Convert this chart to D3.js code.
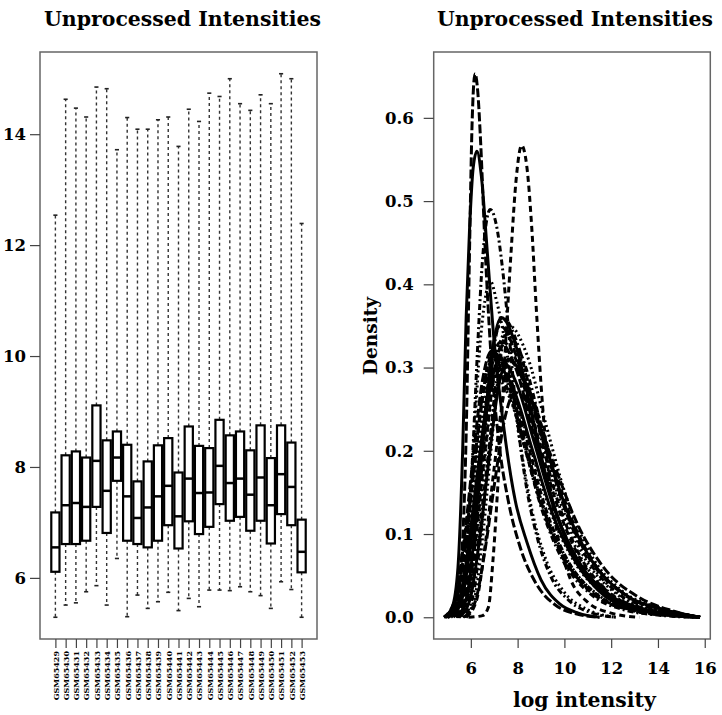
<!DOCTYPE html>
<html>
<head>
<meta charset="utf-8">
<script src="https://cdn.jsdelivr.net/npm/d3@7"></script>
<style>
  body { margin: 0; background: #fff; }
  svg { display: block; }
  text { font-family: "DejaVu Serif", "Liberation Serif", serif; font-weight: bold; fill: #000; }
</style>
</head>
<body>
<svg id="chart" width="722" height="715"></svg>
<script>
// Sample names (one box and one density curve per array)
const sampleNames = ['GSM65429','GSM65430','GSM65431','GSM65432','GSM65433','GSM65434','GSM65435',
  'GSM65436','GSM65437','GSM65438','GSM65439','GSM65440','GSM65441','GSM65442','GSM65443','GSM65444',
  'GSM65445','GSM65446','GSM65447','GSM65448','GSM65449','GSM65450','GSM65451','GSM65452','GSM65453'];

// Boxplot summaries (log intensity)
const boxLow    = [5.29,5.51,5.55,5.75,5.86,5.51,6.35,5.30,5.69,5.45,5.57,5.74,5.41,5.63,5.48,5.78,5.78,5.77,5.84,5.75,5.68,5.45,5.93,5.79,5.29];
const boxQ1     = [6.11,6.61,6.61,6.67,7.28,6.81,7.75,6.67,6.61,6.55,6.67,6.95,6.53,7.02,6.79,6.92,7.33,7.03,7.10,6.85,7.03,6.62,7.15,6.95,6.10];
const boxMedian = [6.55,7.31,7.35,7.28,8.11,7.57,8.17,7.47,7.08,7.27,7.47,7.66,7.11,7.79,7.53,7.54,8.02,7.71,7.79,7.50,7.81,7.31,7.87,7.64,6.47];
const boxQ3     = [7.18,8.21,8.28,8.17,9.11,8.48,8.64,8.40,7.74,8.10,8.39,8.52,7.90,8.73,8.38,8.34,8.85,8.57,8.64,8.30,8.75,8.16,8.75,8.44,7.05];
const boxHigh   = [12.54,14.63,14.47,14.31,14.85,14.82,13.72,14.30,14.09,14.09,14.26,14.31,13.78,14.45,14.23,14.74,14.68,15.00,14.55,14.43,14.71,14.55,15.09,15.00,12.39];

// Density curves: log intensity (x) and density (y), one row per sample
const densityX = [
  [4.85,5.20,5.45,5.65,5.80,5.95,6.10,6.26,6.45,6.70,7.00,7.40,7.90,8.40,9.00,9.80,10.60,11.50],
  [4.85,5.32,5.69,6.11,6.53,6.95,7.63,8.30,9.11,10.06,11.27,12.76,14.51,15.80],
  [4.90,5.37,5.74,6.16,6.58,7.00,7.70,8.40,9.24,10.22,11.48,13.02,14.84,15.80],
  [4.95,5.40,5.75,6.15,6.55,6.95,7.60,8.25,9.03,9.94,11.11,12.54,14.23,15.53],
  [5.70,6.19,6.58,7.02,7.46,7.90,8.73,9.55,10.54,11.70,13.18,14.60,15.40,15.80],
  [5.15,5.62,5.99,6.41,6.83,7.25,7.98,8.70,9.57,10.59,11.89,13.49,15.20,15.80],
  [5.90,6.50,6.75,6.95,7.20,7.45,7.70,7.95,8.17,8.40,8.60,8.80,9.00,9.30,9.70,10.20,11.00,12.00,13.20],
  [4.90,5.39,5.78,6.22,6.66,7.10,7.83,8.55,9.42,10.44,11.74,13.34,15.22,15.80],
  [5.00,5.40,5.75,6.05,6.30,6.50,6.83,7.10,7.35,7.60,7.90,8.30,8.80,9.40,10.20,11.20,12.20],
  [4.90,5.35,5.70,6.10,6.50,6.90,7.58,8.25,9.06,10.01,11.22,12.71,14.46,15.80],
  [5.05,5.52,5.89,6.31,6.73,7.15,7.88,8.60,9.47,10.49,11.79,13.39,15.27,15.80],
  [5.40,5.85,6.20,6.60,7.00,7.40,8.10,8.80,9.64,10.62,11.88,13.42,15.24,15.80],
  [5.00,5.40,5.80,6.10,6.40,6.60,6.83,7.10,7.40,7.70,8.10,8.60,9.20,10.00,11.00,12.20],
  [5.45,5.92,6.29,6.71,7.13,7.55,8.33,9.10,10.03,11.12,12.51,14.22,15.40,15.80],
  [5.25,5.70,6.05,6.45,6.85,7.25,7.95,8.65,9.49,10.47,11.73,13.27,15.09,15.80],
  [5.40,5.83,6.16,6.54,6.92,7.30,7.95,8.60,9.38,10.29,11.46,12.89,14.58,15.80],
  [5.80,6.25,6.60,7.00,7.40,7.80,8.55,9.30,10.20,11.25,12.60,14.25,15.40,15.80],
  [5.45,5.90,6.25,6.65,7.05,7.45,8.18,8.90,9.77,10.79,12.09,13.69,15.30,15.80],
  [5.65,6.08,6.41,6.79,7.17,7.55,8.28,9.00,9.87,10.89,12.19,13.79,15.35,15.80],
  [5.35,5.78,6.11,6.49,6.87,7.25,7.93,8.60,9.41,10.36,11.57,13.06,14.81,15.80],
  [5.50,5.97,6.34,6.76,7.18,7.60,8.38,9.15,10.08,11.17,12.56,14.27,15.40,15.80],
  [5.00,5.45,5.80,6.20,6.60,7.00,7.68,8.35,9.16,10.11,11.32,12.81,14.56,15.80],
  [5.75,6.18,6.51,6.89,7.27,7.65,8.40,9.15,10.05,11.10,12.45,14.10,15.40,15.80],
  [5.45,5.88,6.21,6.59,6.97,7.35,8.05,8.75,9.59,10.57,11.83,13.37,15.19,15.80],
  [4.90,5.30,5.60,5.80,5.95,6.05,6.18,6.30,6.42,6.60,6.85,7.20,7.60,8.10,8.80,9.60,10.50,11.50]
];
const densityY = [
  [0,.012,.06,.20,.36,.47,.54,.56,.53,.44,.33,.23,.14,.09,.045,.016,.005,0],
  [0,.021,.084,.180,.267,.30,.270,.204,.126,.066,.027,.009,.002,0],
  [0,.020,.081,.174,.258,.29,.261,.197,.122,.064,.026,.009,.002,0],
  [0,.022,.087,.186,.276,.31,.279,.211,.130,.068,.028,.009,.002,0],
  [0,.019,.076,.162,.240,.27,.243,.184,.113,.059,.024,.008,.002,0],
  [0,.022,.087,.186,.276,.31,.279,.211,.130,.068,.028,.009,.002,0],
  [0,.002,.012,.07,.18,.31,.43,.53,.567,.54,.47,.37,.28,.18,.10,.05,.018,.005,0],
  [0,.021,.084,.180,.267,.30,.270,.204,.126,.066,.027,.009,.002,0],
  [0,.01,.06,.18,.33,.43,.49,.47,.42,.35,.26,.17,.10,.05,.02,.005,0],
  [0,.022,.090,.192,.285,.32,.288,.218,.134,.070,.029,.010,.002,0],
  [0,.021,.084,.180,.267,.30,.270,.204,.126,.066,.027,.009,.002,0],
  [0,.023,.092,.198,.294,.33,.297,.224,.139,.073,.030,.010,.002,0],
  [0,.012,.08,.20,.33,.38,.404,.38,.34,.29,.21,.13,.07,.03,.009,0],
  [0,.022,.087,.186,.276,.31,.279,.211,.130,.068,.028,.009,.002,0],
  [0,.023,.092,.198,.294,.33,.297,.224,.139,.073,.030,.010,.002,0],
  [0,.025,.101,.216,.320,.36,.324,.245,.151,.079,.032,.011,.003,0],
  [0,.021,.084,.180,.267,.30,.270,.204,.126,.066,.027,.009,.002,0],
  [0,.024,.095,.204,.303,.34,.306,.231,.143,.075,.031,.010,.002,0],
  [0,.024,.095,.204,.303,.34,.306,.231,.143,.075,.031,.010,.002,0],
  [0,.025,.098,.210,.312,.35,.315,.238,.147,.077,.032,.011,.002,0],
  [0,.022,.087,.186,.276,.31,.279,.211,.130,.068,.028,.009,.002,0],
  [0,.022,.090,.192,.285,.32,.288,.218,.134,.070,.029,.010,.002,0],
  [0,.025,.098,.210,.312,.35,.315,.238,.147,.077,.032,.011,.002,0],
  [0,.025,.101,.216,.320,.36,.324,.245,.151,.079,.032,.011,.003,0],
  [0,.01,.07,.22,.45,.59,.653,.63,.57,.45,.32,.21,.14,.085,.04,.015,.004,0]
];

// Axis ticks and labels
const intensityTicks = [6, 8, 10, 12, 14];
const densityTicks = [0, 0.1, 0.2, 0.3, 0.4, 0.5, 0.6];
const logTicks = [6, 8, 10, 12, 14, 16];
const titleText = 'Unprocessed Intensities';
const yLabelText = 'Density';
const xLabelText = 'log intensity';

// R style line types, cycled over samples
const lineTypes = [null, '6,4', '2,3', '2,3,6,3', '9,3'];

const svg = d3.select('#chart');
svg.append('rect').attr('width', 722).attr('height', 715).attr('fill', '#fff');

// shrink or grow a text's font so it spans the given width
function fitText(sel, width) {
  const len = sel.node().getComputedTextLength();
  const fs = parseFloat(sel.attr('font-size'));
  sel.attr('font-size', fs * width / len);
}

// R's default 4% axis extension
function extend(lo, hi) {
  const pad = (hi - lo) * 0.04;
  return [lo - pad, hi + pad];
}

// ---------- left panel: boxplot ----------
const left = { x0: 40, x1: 317, y0: 52, y1: 639 };
const n = sampleNames.length;

const xBox = d3.scaleLinear()
  .domain(extend(0.5, n + 0.5))
  .range([left.x0, left.x1]);
const yBox = d3.scaleLinear()
  .domain(extend(d3.min(boxLow), d3.max(boxHigh)))
  .range([left.y1, left.y0]);

const boxW = xBox(0.8) - xBox(0);
const capW = boxW / 2;

const boxes = svg.append('g')
  .selectAll('g')
  .data(sampleNames.map((s, i) => ({ s, i })))
  .join('g');

// whiskers
boxes.append('line')
  .attr('x1', d => xBox(d.i + 1)).attr('x2', d => xBox(d.i + 1))
  .attr('y1', d => yBox(boxQ3[d.i])).attr('y2', d => yBox(boxHigh[d.i]))
  .attr('stroke', '#333').attr('stroke-width', 1.4).attr('stroke-dasharray', '3,3');
boxes.append('line')
  .attr('x1', d => xBox(d.i + 1)).attr('x2', d => xBox(d.i + 1))
  .attr('y1', d => yBox(boxQ1[d.i])).attr('y2', d => yBox(boxLow[d.i]))
  .attr('stroke', '#333').attr('stroke-width', 1.4).attr('stroke-dasharray', '3,3');
// caps
[boxHigh, boxLow].forEach(arr => {
  boxes.append('line')
    .attr('x1', d => xBox(d.i + 1) - capW / 2).attr('x2', d => xBox(d.i + 1) + capW / 2)
    .attr('y1', d => yBox(arr[d.i])).attr('y2', d => yBox(arr[d.i]))
    .attr('stroke', '#222').attr('stroke-width', 1.6);
});
// box
boxes.append('rect')
  .attr('x', d => xBox(d.i + 1) - boxW / 2)
  .attr('width', boxW)
  .attr('y', d => yBox(boxQ3[d.i]))
  .attr('height', d => yBox(boxQ1[d.i]) - yBox(boxQ3[d.i]))
  .attr('fill', 'none').attr('stroke', '#000').attr('stroke-width', 2.2);
// median
boxes.append('line')
  .attr('x1', d => xBox(d.i + 1) - boxW / 2).attr('x2', d => xBox(d.i + 1) + boxW / 2)
  .attr('y1', d => yBox(boxMedian[d.i])).attr('y2', d => yBox(boxMedian[d.i]))
  .attr('stroke', '#000').attr('stroke-width', 2.5);

svg.append('rect')
  .attr('x', left.x0).attr('y', left.y0)
  .attr('width', left.x1 - left.x0).attr('height', left.y1 - left.y0)
  .attr('fill', 'none').attr('stroke', '#666').attr('stroke-width', 1.5);

const yAxisL = svg.append('g')
  .attr('transform', `translate(${left.x0},0)`)
  .call(d3.axisLeft(yBox).tickValues(intensityTicks).tickSize(10).tickPadding(4));
yAxisL.select('.domain').remove();
yAxisL.selectAll('line').attr('stroke', '#444').attr('stroke-width', 1.2);
yAxisL.selectAll('text').attr('font-size', 16.5).attr('font-family', null);

const xAxisL = svg.append('g')
  .attr('transform', `translate(0,${left.y1})`)
  .call(d3.axisBottom(xBox)
    .tickValues(d3.range(1, n + 1))
    .tickFormat(i => sampleNames[i - 1])
    .tickSize(9));
xAxisL.select('.domain').remove();
xAxisL.selectAll('line').attr('stroke', '#444').attr('stroke-width', 1.2);
xAxisL.selectAll('text')
  .attr('font-family', null)
  .attr('font-size', 8)
  .attr('transform', 'rotate(-90)')
  .attr('text-anchor', 'end')
  .attr('x', -12).attr('y', 0).attr('dy', '0.35em');

const titleL = svg.append('text')
  .attr('x', 182.5).attr('y', 26)
  .attr('text-anchor', 'middle').attr('font-size', 20)
  .text(titleText);
fitText(titleL, 277);

// ---------- right panel: densities ----------
const right = { x0: 433.7, x1: 710.3, y0: 52, y1: 639 };
const allX = densityX.flat();
const xDen = d3.scaleLinear()
  .domain(extend(d3.min(allX), d3.max(allX)))
  .range([right.x0, right.x1]);
const yDen = d3.scaleLinear()
  .domain(extend(0, d3.max(densityY.flat())))
  .range([right.y1, right.y0]);

const line = d3.line()
  .x(d => xDen(d[0]))
  .y(d => yDen(d[1]))
  .curve(d3.curveMonotoneX);

svg.append('g')
  .selectAll('path')
  .data(densityX.map((xs, i) => ({ i, pts: xs.map((x, j) => [x, densityY[i][j]]) })))
  .join('path')
  .attr('d', d => line(d.pts))
  .attr('fill', 'none')
  .attr('stroke', '#000')
  .attr('stroke-width', 3)
  .attr('stroke-dasharray', d => lineTypes[d.i % lineTypes.length]);

svg.append('rect')
  .attr('x', right.x0).attr('y', right.y0)
  .attr('width', right.x1 - right.x0).attr('height', right.y1 - right.y0)
  .attr('fill', 'none').attr('stroke', '#666').attr('stroke-width', 1.5);

const yAxisR = svg.append('g')
  .attr('transform', `translate(${right.x0},0)`)
  .call(d3.axisLeft(yDen).tickValues(densityTicks).tickFormat(d3.format('.1f')).tickSize(10).tickPadding(10));
yAxisR.select('.domain').remove();
yAxisR.selectAll('line').attr('stroke', '#444').attr('stroke-width', 1.2);
yAxisR.selectAll('text').attr('font-size', 16.5).attr('font-family', null);

const xAxisR = svg.append('g')
  .attr('transform', `translate(0,${right.y1})`)
  .call(d3.axisBottom(xDen).tickValues(logTicks).tickSize(9).tickPadding(14));
xAxisR.select('.domain').remove();
xAxisR.selectAll('line').attr('stroke', '#444').attr('stroke-width', 1.2);
xAxisR.selectAll('text').attr('font-size', 16.5).attr('font-family', null);

const titleR = svg.append('text')
  .attr('x', 575).attr('y', 26)
  .attr('text-anchor', 'middle').attr('font-size', 20)
  .text(titleText);
fitText(titleR, 276);

const xLab = svg.append('text')
  .attr('x', 584.4).attr('y', 707)
  .attr('text-anchor', 'middle').attr('font-size', 20)
  .text(xLabelText);
fitText(xLab, 143);

const yLab = svg.append('text')
  .attr('transform', 'translate(377,336) rotate(-90)')
  .attr('text-anchor', 'middle').attr('font-size', 20)
  .text(yLabelText);
fitText(yLab, 78);
</script>
</body>
</html>
